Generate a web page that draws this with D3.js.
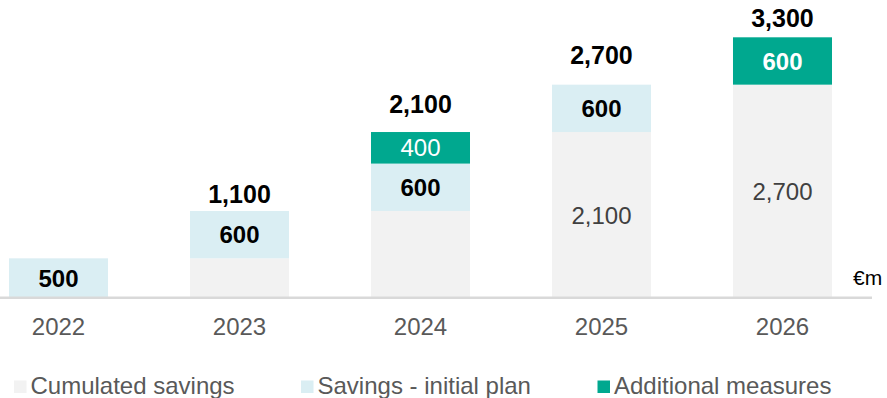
<!DOCTYPE html>
<html>
<head>
<meta charset="utf-8">
<script src="https://cdn.jsdelivr.net/npm/d3@7"></script>
<style>
  html, body { margin: 0; padding: 0; background: #fff; }
  svg { display: block; font-family: "Liberation Sans", Arial, sans-serif; }
</style>
</head>
<body>
<svg id="chart" width="887" height="398"></svg>
<script>
// Savings programme, €m
const years = ["2022", "2023", "2024", "2025", "2026"];
const cumulatedSavings = [0, 500, 1100, 2100, 2700];
const initialPlan = [500, 600, 600, 600, 0];
const additionalMeasures = [0, 0, 400, 0, 600];
const totals = [500, 1100, 2100, 2700, 3300];

const seriesKeys = ["cumulated", "plan", "additional"];
const seriesNames = ["Cumulated savings", "Savings - initial plan", "Additional measures"];

// Styling
const colors = { cumulated: "#f2f2f2", plan: "#daeef3", additional: "#00a88f" };
const labelStyle = {
  cumulated: { fill: "#404040", weight: "normal" },
  plan: { fill: "#000000", weight: "bold" },
  additional: { fill: "#ffffff", weight: "normal" }
};
const boldAdditionalYears = new Set(["2026"]);
const totalLabelGap = { "2023": 8, "2024": 19, "2025": 21, "2026": 10 };

const svg = d3.select("#chart");

const rows = years.map((y, i) => ({
  year: y,
  cumulated: cumulatedSavings[i],
  plan: initialPlan[i],
  additional: additionalMeasures[i],
  total: totals[i]
}));

const x = d3.scaleBand()
  .domain(years)
  .range([9, 832])
  .paddingInner(0.453)
  .paddingOuter(0);

const y = d3.scaleLinear()
  .domain([0, 3300])
  .range([297.8, 37.3]);

const stacked = d3.stack().keys(seriesKeys)(rows);

// Bars
const layers = svg.append("g").selectAll("g")
  .data(stacked)
  .join("g")
  .attr("fill", d => colors[d.key]);

layers.selectAll("rect")
  .data(d => d.map(p => ({ key: d.key, p })))
  .join("rect")
  .filter(d => d.p[1] - d.p[0] > 0)
  .attr("x", d => x(d.p.data.year))
  .attr("width", x.bandwidth())
  .attr("y", d => y(d.p[1]))
  .attr("height", d => y(d.p[0]) - y(d.p[1]));

// Segment value labels
const fmt = d3.format(",");
stacked.forEach(layer => {
  layer.forEach(p => {
    const v = p[1] - p[0];
    if (v <= 0) return;
    const h = y(p[0]) - y(p[1]);
    if (layer.key === "cumulated" && h < 100) return;
    const st = labelStyle[layer.key];
    const bold = st.weight === "bold" ||
      (layer.key === "additional" && boldAdditionalYears.has(p.data.year));
    svg.append("text")
      .attr("x", x(p.data.year) + x.bandwidth() / 2)
      .attr("y", (y(p[0]) + y(p[1])) / 2)
      .attr("dy", "0.36em")
      .attr("text-anchor", "middle")
      .attr("font-size", 24)
      .attr("font-weight", bold ? "bold" : "normal")
      .attr("fill", st.fill)
      .text(fmt(v));
  });
});

// Totals above stacked bars
rows.forEach(r => {
  if (!(r.year in totalLabelGap)) return;
  svg.append("text")
    .attr("x", x(r.year) + x.bandwidth() / 2)
    .attr("y", y(r.total) - totalLabelGap[r.year])
    .attr("text-anchor", "middle")
    .attr("font-size", 25)
    .attr("font-weight", "bold")
    .attr("fill", "#000")
    .text(fmt(r.total));
});

// Baseline axis
const xAxis = d3.axisBottom(x).tickSize(0).tickPadding(0);
const axisG = svg.append("g")
  .attr("transform", `translate(0, ${y(0)})`)
  .call(xAxis);
axisG.select(".domain").remove();
axisG.append("line")
  .attr("x1", 0).attr("x2", 872)
  .attr("y1", 0).attr("y2", 0)
  .attr("stroke", "#d9d9d9")
  .attr("stroke-width", 2.5);
axisG.selectAll(".tick text")
  .attr("y", 37)
  .attr("dy", 0)
  .attr("font-size", 24)
  .attr("font-family", "Liberation Sans, Arial, sans-serif")
  .attr("fill", "#595959");

// Unit
svg.append("text")
  .attr("x", 853)
  .attr("y", 285)
  .attr("font-size", 21)
  .attr("fill", "#000")
  .text("€m");

// Legend
const legendX = [14, 301, 597.5];
const legend = svg.append("g");
seriesKeys.forEach((k, i) => {
  const g = legend.append("g").attr("transform", `translate(${legendX[i]}, 0)`);
  g.append("rect")
    .attr("x", 0).attr("y", 380.5)
    .attr("width", 12.5).attr("height", 12.5)
    .attr("fill", colors[k]);
  g.append("text")
    .attr("x", 16.5)
    .attr("y", 394)
    .attr("font-size", 24)
    .attr("fill", "#595959")
    .text(seriesNames[i]);
});
</script>
</body>
</html>
